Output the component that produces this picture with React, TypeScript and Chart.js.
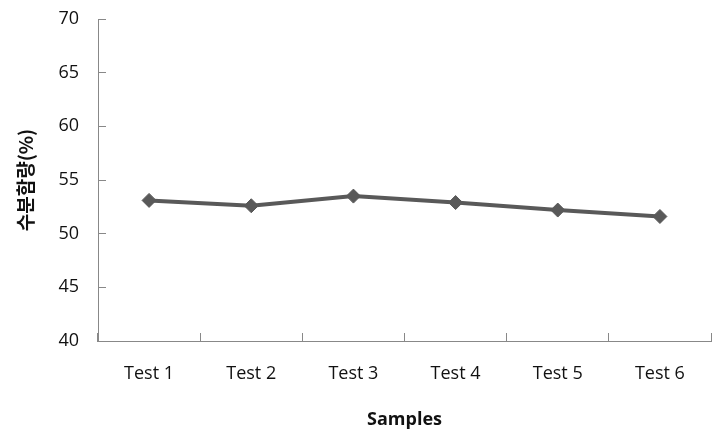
import React, { useEffect, useRef } from "react";
import { Chart, registerables } from "chart.js";

Chart.register(...registerables);

const categories = ["Test 1", "Test 2", "Test 3", "Test 4", "Test 5", "Test 6"];
const moisture = [53.1, 52.6, 53.5, 52.9, 52.2, 51.6];
const yMin = 40;
const yMax = 70;
const yStep = 5;
const xTitle = "Samples";
const yTitle = "수분함량(%)";

export default function App() {
  const ref = useRef<HTMLCanvasElement | null>(null);

  useEffect(() => {
    if (!ref.current) return;
    const font = "'Open Sans', 'Noto Sans', sans-serif";
    const chart = new Chart(ref.current, {
      type: "line",
      data: {
        labels: categories,
        datasets: [
          {
            data: moisture,
            borderColor: "#595959",
            backgroundColor: "#595959",
            borderWidth: 4,
            pointStyle: "rectRot",
            pointRadius: 7,
            pointBorderWidth: 1,
            tension: 0,
          },
        ],
      },
      options: {
        animation: false,
        responsive: true,
        maintainAspectRatio: false,
        layout: { padding: { left: 8, right: 8, top: 19, bottom: 0 } },
        plugins: { legend: { display: false }, tooltip: { enabled: false } },
        scales: {
          x: {
            offset: true,
            grid: {
              offset: true,
              drawOnChartArea: false,
              drawTicks: true,
              tickLength: -8,
              color: "#888888",
            },
            border: { color: "#888888", width: 1 },
            ticks: { color: "#111", font: { family: font, size: 18 }, padding: 30 },
            title: {
              display: true,
              text: xTitle,
              color: "#111",
              font: { family: font, size: 18, weight: "bold" },
              padding: { top: 4, bottom: 3 },
            },
            afterFit: (s: any) => {
              s.height = 93;
            },
          },
          y: {
            min: yMin,
            max: yMax,
            ticks: {
              stepSize: yStep,
              color: "#111",
              font: { family: font, size: 18 },
              padding: 27,
            },
            grid: {
              drawOnChartArea: false,
              drawTicks: true,
              tickLength: -8,
              color: "#888888",
            },
            border: { color: "#888888", width: 1 },
            title: {
              display: true,
              text: yTitle,
              color: "#111",
              font: { family: "'Noto Sans CJK KR', sans-serif", size: 19, weight: "bold" },
              padding: { top: 6, bottom: 4 },
            },
            afterFit: (s: any) => {
              s.width = 90;
              s.paddingTop = 0;
              s.paddingBottom = 0;
            },
          },
        },
      },
    });
    return () => chart.destroy();
  }, []);

  return (
    <div style={{ position: "fixed", left: 0, top: 0, width: 719, height: 434, background: "#fff" }}>
      <canvas ref={ref} />
    </div>
  );
}
